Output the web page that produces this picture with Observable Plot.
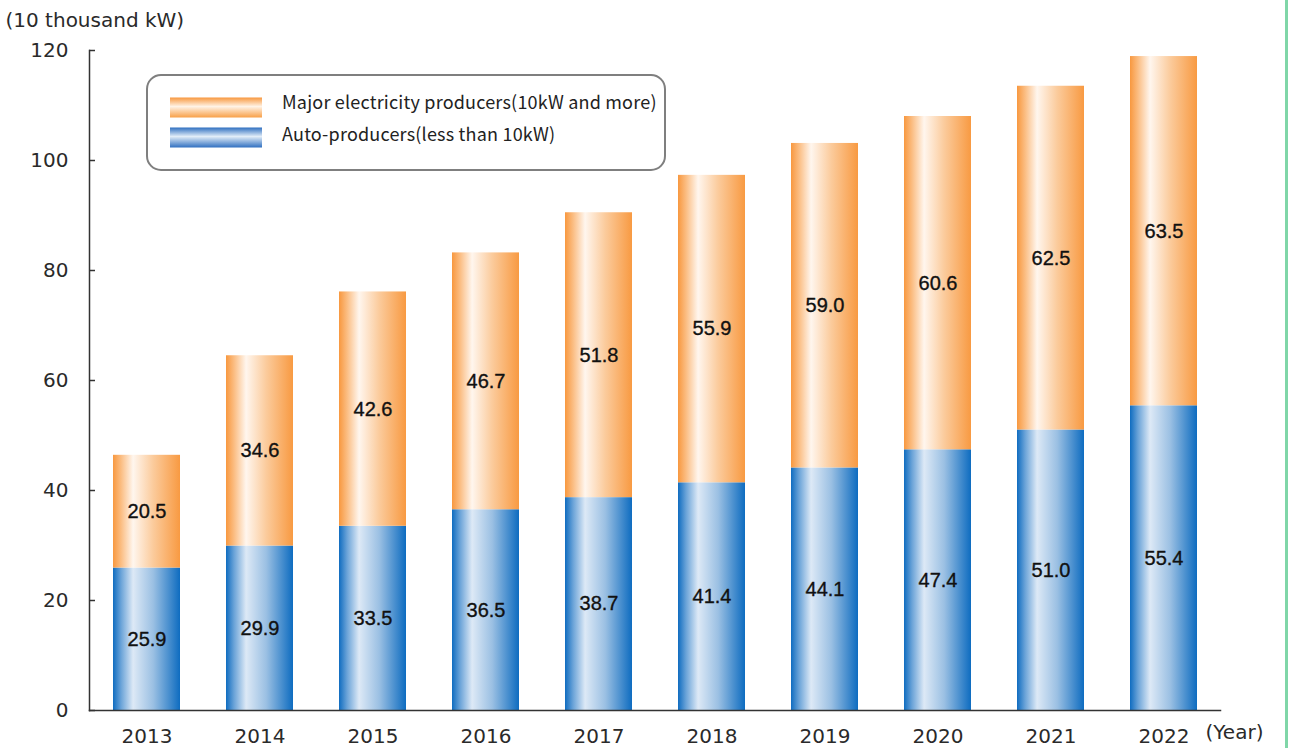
<!DOCTYPE html>
<html><head><meta charset="utf-8">
<script src="https://cdn.jsdelivr.net/npm/d3@7"></script>
<script src="https://cdn.jsdelivr.net/npm/@observablehq/plot@0.6"></script>
<style>
body{margin:0;background:#fff;}
#chart{position:relative;width:1290px;height:748px;overflow:hidden;}
#green{position:absolute;left:1285px;top:0;width:3px;height:748px;background:#80d6a8;}
</style>
</head><body><div id="chart"><div id="green"></div></div>
<script>
const years = ["2013","2014","2015","2016","2017","2018","2019","2020","2021","2022"];
const autoProducers = [25.9,29.9,33.5,36.5,38.7,41.4,44.1,47.4,51.0,55.4];
const majorProducers = [20.5,34.6,42.6,46.7,51.8,55.9,59.0,60.6,62.5,63.5];
const seriesKeys = ["auto","major"];
const seriesNames = ["Major electricity producers(10kW and more)","Auto-producers(less than 10kW)"];
const yTicks = [0,20,40,60,80,100,120];
const yUnit = "(10 thousand kW)";
const xUnit = "(Year)";

const rows = years.flatMap((yr,i)=>[
  {year:yr, series:"auto", value:autoProducers[i]},
  {year:yr, series:"major", value:majorProducers[i]}
]);

const W = 1290, ML = 89, MR = 70;
const plot = Plot.plot({
  width:W, height:748,
  marginLeft:ML, marginRight:MR, marginTop:50, marginBottom:38,
  style:{fontFamily:"DejaVu Sans", fontSize:"20px", color:"#222", background:"#fff"},
  x:{domain:years, paddingInner:0.41, paddingOuter:0.205, label:null},
  y:{domain:[0,120], label:null},
  color:{domain:seriesKeys, range:["url(#gradBlue)","url(#gradOrange)"]},
  marks:[
    Plot.barY(rows, Plot.stackY({x:"year", y:"value", fill:"series"})),
    Plot.text(rows, Plot.stackY({x:"year", y:"value", z:"series", text:d=>d.value.toFixed(1),
      fill:"#111", stroke:"#111", strokeWidth:0.35, fontFamily:"Liberation Sans", fontSize:20})),
    Plot.axisY(yTicks, {tickSize:0, tickPadding:21, fontSize:20, fill:"#2a2a2a", label:null}),
    Plot.ruleY(yTicks, {insetRight:(W-ML-MR)-6, stroke:"#333", strokeWidth:1.5}),
    Plot.axisX({tickSize:0, tickPadding:18, fontSize:20, fill:"#2a2a2a", label:null}),
    Plot.frame({anchor:"left", stroke:"#333", strokeWidth:1.5}),
    Plot.frame({anchor:"bottom", stroke:"#333", strokeWidth:1.5}),
    Plot.text([yUnit], {frameAnchor:"top-left", text:d=>d, textAnchor:"start", lineAnchor:"middle", dx:-84, dy:-30, fontSize:20, fill:"#2a2a2a"}),
    Plot.text([xUnit], {frameAnchor:"bottom-right", text:d=>d, textAnchor:"start", lineAnchor:"middle", dx:-15, dy:22, fontSize:20, fill:"#2a2a2a"})
  ]
});

const svg = d3.select(plot);
const defs = svg.insert("defs", ":first-child");
function grad(id, stops, vertical){
  const g = defs.append("linearGradient").attr("id", id)
    .attr("x1","0").attr("x2", vertical ? "0" : "1").attr("y1","0").attr("y2", vertical ? "1" : "0");
  stops.forEach(([o,c])=>g.append("stop").attr("offset",o).attr("stop-color",c));
}
grad("gradOrange", [["0%","#f8983f"],["12%","#fbbd82"],["30%","#fff6ee"],["60%","#fbcb9c"],["100%","#f89a42"]]);
grad("gradBlue", [["0%","#0f6cc0"],["12%","#6aa3d8"],["30%","#dde9f6"],["60%","#9bc0e3"],["100%","#0e6cc0"]]);
grad("legOrange", [["0%","#f8983f"],["45%","#fff3e6"],["100%","#f8a048"]], true);
grad("legBlue", [["0%","#2f6fc0"],["45%","#e2edf8"],["100%","#2f6fc0"]], true);

const leg = svg.append("g").attr("text-anchor","start");
leg.append("rect").attr("x",147).attr("y",75).attr("width",518).attr("height",95).attr("rx",14)
  .attr("fill","#fff").attr("stroke","#7f7f7f").attr("stroke-width",2);
const legItems = [["url(#legOrange)", seriesNames[0], 107.5, 103],["url(#legBlue)", seriesNames[1], 137.5, 135]];
legItems.forEach(([f,t,y,ty])=>{
  leg.append("rect").attr("x",170).attr("y",y-10).attr("width",92).attr("height",20).attr("fill",f);
  leg.append("text").attr("x",282).attr("y",ty).attr("dy","0.35em").attr("text-anchor","start")
    .attr("font-family","Noto Sans CJK JP").attr("font-size",18).attr("letter-spacing","0.2px")
    .attr("fill","#222").text(t);
});

document.getElementById("chart").prepend(plot);
</script>
</body></html>
